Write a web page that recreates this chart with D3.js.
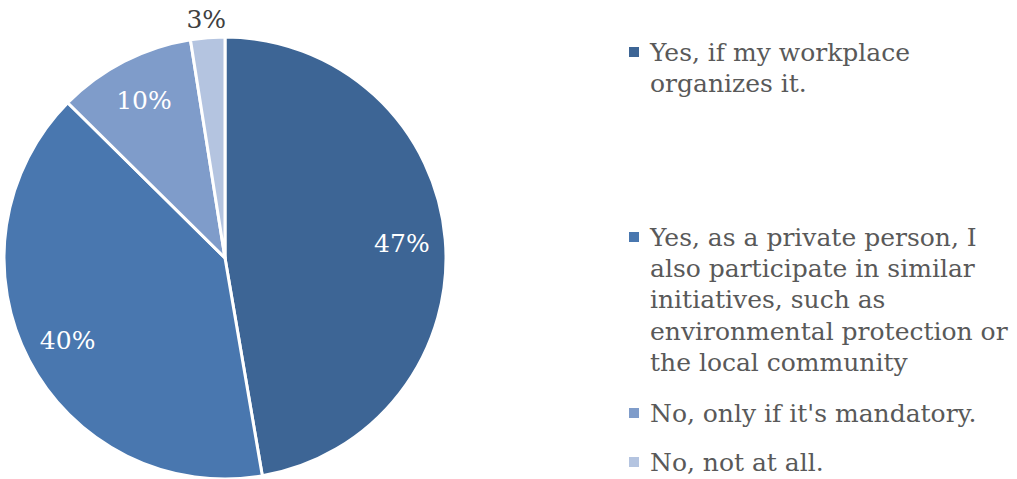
<!DOCTYPE html>
<html>
<head>
<meta charset="utf-8">
<script src="https://cdn.jsdelivr.net/npm/d3@7"></script>
<style>
  body { margin: 0; background: #fff; }
  text { font-family: Georgia, "DejaVu Serif", serif; }
</style>
</head>
<body>
<svg id="chart" width="1017" height="479"></svg>
<script>
// answers, as legend lines
var categories = [
    ["Yes, if my workplace", "organizes it."],
    ["Yes, as a private person, I", "also participate in similar", "initiatives, such as", "environmental protection or", "the local community"],
    ["No, only if it's mandatory."],
    ["No, not at all."]
];
var shares = [47.3, 40.1, 10.1, 2.5];
var colors = ["#3d6595", "#4977af", "#7f9cca", "#b4c4e0"];
var legendY = [52, 237, 413, 462];

var svg = d3.select("#chart"),
    cx = 225,
    cy = 258,
    radius = 221;

var g = svg.append("g")
    .attr("transform", "translate(" + cx + "," + cy + ")");

var pie = d3.pie().sort(null).value(function(d) { return d; });

var path = d3.arc()
    .outerRadius(radius)
    .innerRadius(0);

var label = d3.arc()
    .outerRadius(355)
    .innerRadius(0);

var outside = d3.arc()
    .outerRadius(478)
    .innerRadius(0);

var arc = g.selectAll(".arc")
    .data(pie(shares))
    .enter().append("g")
    .attr("class", "arc");

arc.append("path")
    .attr("d", path)
    .attr("fill", function(d, i) { return colors[i]; })
    .attr("stroke", "#fff")
    .attr("stroke-width", 3);

arc.append("text")
    .attr("transform", function(d) {
        var c = d.data < 5 ? outside.centroid(d) : label.centroid(d);
        return "translate(" + c + ")";
    })
    .attr("text-anchor", "middle")
    .attr("dy", "0.35em")
    .attr("font-size", 25)
    .attr("fill", function(d) { return d.data < 5 ? "#404040" : "#fff"; })
    .text(function(d) { return Math.round(d.data) + "%"; });

// legend
var legend = svg.append("g");

categories.forEach(function(lines, i) {
    legend.append("rect")
        .attr("x", 629)
        .attr("y", legendY[i] - 5)
        .attr("width", 10)
        .attr("height", 10)
        .attr("fill", colors[i]);

    var t = legend.append("text")
        .attr("x", 650)
        .attr("y", legendY[i])
        .attr("font-size", 25)
        .attr("fill", "#595959");

    lines.forEach(function(line, j) {
        t.append("tspan")
            .attr("x", 650)
            .attr("dy", j == 0 ? "0.35em" : 31.3)
            .text(line);
    });
});
</script>
</body>
</html>
